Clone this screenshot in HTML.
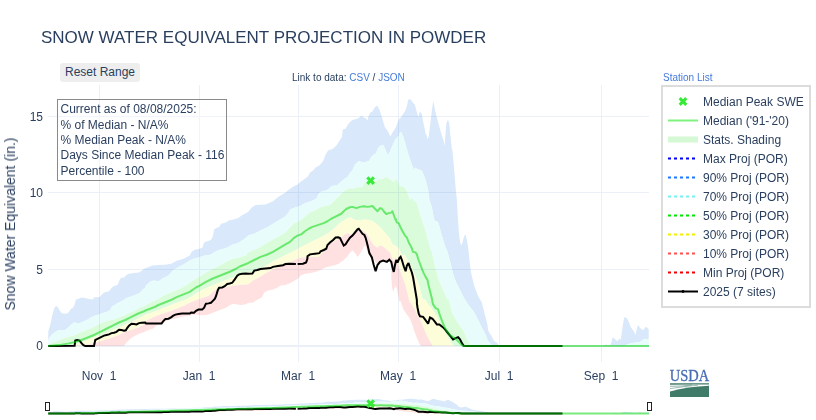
<!DOCTYPE html>
<html><head><meta charset="utf-8"><title>SWE Projection</title>
<style>
html,body{margin:0;padding:0;background:#fff;}
body{width:816px;height:420px;position:relative;overflow:hidden;font-family:"Liberation Sans",sans-serif;color:#2a3f5f;}
.t{position:absolute;white-space:nowrap;line-height:1;}
</style></head><body>
<svg width="816" height="420" viewBox="0 0 816 420" style="position:absolute;left:0;top:0">
<defs><clipPath id="cp"><rect x="48" y="85" width="601.5" height="277"/></clipPath></defs>
<g clip-path="url(#cp)">
<path d="M48.25,332.00 L48.30,331.25 L50.25,325.00 L52.12,316.25 L54.00,308.75 L55.88,306.00 L57.75,306.88 L59.62,310.62 L61.50,313.12 L64.00,313.75 L67.12,313.50 L69.00,311.88 L70.88,308.75 L72.75,308.12 L74.62,305.00 L75.88,299.38 L79.00,298.75 L80.88,297.50 L85.25,298.12 L89.00,299.00 L92.75,299.38 L94.00,297.50 L96.50,297.25 L99.62,296.88 L101.50,295.00 L104.00,292.50 L106.50,291.88 L109.00,291.25 L110.88,288.75 L113.38,286.25 L115.88,285.62 L117.75,284.38 L119.62,280.00 L120.88,278.12 L124.00,277.50 L126.50,275.00 L129.00,273.75 L134.00,273.12 L139.00,272.50 L142.12,270.62 L144.00,268.75 L146.00,268.12 L152.25,265.62 L158.50,265.00 L164.75,264.75 L171.00,263.75 L177.25,260.62 L183.50,258.75 L189.75,255.62 L191.62,251.88 L194.12,250.00 L198.50,249.00 L202.25,247.75 L204.12,242.50 L207.25,241.25 L211.00,240.00 L212.88,236.25 L214.12,229.38 L217.25,227.50 L219.12,226.88 L221.00,223.75 L226.00,222.50 L228.50,220.62 L233.50,219.38 L238.50,218.12 L241.62,215.62 L248.00,211.88 L251.75,207.50 L255.50,205.00 L265.50,204.38 L273.00,201.25 L276.75,198.12 L280.50,195.62 L285.50,192.50 L290.00,188.75 L293.75,186.25 L297.50,184.38 L301.25,181.25 L305.00,178.75 L308.12,176.25 L310.00,172.50 L313.12,170.62 L315.50,167.50 L319.25,165.50 L323.00,161.25 L325.50,155.00 L328.00,150.50 L333.00,148.75 L336.75,145.00 L341.88,137.00 L342.75,129.38 L345.62,128.75 L347.50,125.00 L350.00,121.88 L352.50,120.00 L356.25,119.00 L358.75,118.12 L360.62,116.25 L362.50,116.25 L364.38,118.12 L365.62,118.12 L367.50,120.62 L368.50,116.25 L370.00,113.12 L372.50,111.25 L374.38,108.12 L376.25,106.00 L377.50,106.00 L379.38,109.38 L381.25,115.00 L383.12,121.25 L385.00,127.50 L387.50,130.62 L389.38,134.38 L390.38,136.50 L392.50,132.50 L395.00,128.75 L396.88,124.38 L398.75,119.38 L401.25,116.88 L403.75,113.12 L405.62,110.00 L406.88,106.25 L408.12,100.00 L409.38,99.00 L410.62,99.38 L412.50,101.88 L415.00,105.00 L416.25,110.00 L417.50,114.38 L418.50,116.88 L419.38,113.12 L420.38,111.50 L421.88,114.38 L423.12,121.25 L424.38,127.50 L425.62,133.75 L426.50,135.00 L427.50,139.38 L428.75,136.25 L429.38,131.25 L430.62,121.25 L431.88,110.00 L433.12,101.88 L433.75,102.50 L435.00,110.00 L436.88,117.50 L438.75,124.38 L440.62,131.25 L442.50,137.50 L443.75,141.25 L444.62,146.25 L445.38,135.00 L446.25,123.75 L447.50,120.62 L448.50,120.62 L449.62,126.25 L450.25,133.75 L451.00,141.25 L451.88,148.75 L452.50,151.25 L453.12,157.50 L453.75,165.00 L454.38,172.50 L455.00,180.00 L455.62,187.50 L456.25,193.75 L457.00,201.25 L457.25,207.50 L457.75,215.00 L458.25,222.50 L458.75,230.00 L459.38,237.50 L460.25,242.50 L461.25,245.62 L462.50,242.50 L463.75,237.50 L464.75,235.00 L465.75,235.00 L466.88,240.00 L467.75,245.00 L468.50,250.00 L469.00,255.00 L469.75,262.50 L470.62,270.00 L471.88,276.25 L473.12,281.25 L474.38,286.25 L476.25,291.25 L478.12,296.25 L481.88,302.50 L482.75,306.25 L483.75,310.00 L485.00,315.00 L486.25,320.00 L487.50,325.00 L488.12,330.00 L489.38,333.12 L491.25,335.62 L492.50,338.12 L493.75,340.62 L495.62,341.88 L497.50,343.12 L498.75,345.75 L500.00,346.00 L603.00,346.00 L604.75,345.00 L606.62,344.38 L607.88,345.25 L610.38,345.00 L611.62,341.25 L612.50,337.50 L614.12,338.12 L616.00,340.00 L617.25,341.25 L618.50,339.75 L619.75,338.50 L620.75,340.00 L621.62,333.75 L622.88,325.00 L624.12,317.50 L625.38,317.25 L627.25,318.75 L628.50,321.25 L629.75,324.38 L631.00,327.50 L632.88,330.00 L634.50,332.50 L635.38,335.00 L636.62,330.00 L637.50,326.25 L638.50,325.25 L639.75,327.50 L641.62,329.38 L643.50,330.00 L645.00,327.50 L646.25,326.88 L647.50,327.75 L648.75,329.38 L648.75,338.50 L646.00,339.38 L644.12,338.75 L642.25,340.62 L639.75,341.88 L636.00,342.50 L632.25,343.12 L628.50,344.00 L626.00,345.00 L624.00,346.00 L494.00,346.00 L492.50,345.75 L491.25,344.38 L489.38,342.50 L487.50,340.00 L486.25,336.25 L484.38,332.50 L482.50,328.75 L480.00,323.75 L477.50,318.75 L475.00,313.75 L472.50,310.00 L470.00,306.88 L467.50,303.75 L465.62,300.62 L463.75,297.50 L461.88,293.75 L460.00,290.00 L458.12,286.25 L456.25,282.50 L454.38,278.12 L453.12,273.75 L451.88,268.75 L450.62,263.75 L449.38,258.75 L448.12,253.75 L446.88,250.00 L445.62,248.12 L444.38,243.75 L443.12,240.00 L441.88,235.62 L440.62,231.25 L439.38,226.25 L438.12,222.50 L436.88,221.25 L435.00,221.25 L433.75,217.50 L432.75,212.50 L431.88,207.50 L430.62,203.75 L429.38,200.00 L428.75,195.00 L428.12,190.00 L426.88,185.00 L425.62,180.00 L423.75,175.00 L423.12,173.75 L421.88,170.62 L420.00,170.00 L416.88,168.75 L415.00,167.50 L413.75,170.62 L412.50,166.25 L410.62,161.25 L408.75,155.62 L406.88,149.38 L405.00,142.50 L403.12,136.25 L401.25,131.88 L400.00,131.88 L398.75,136.25 L396.88,137.50 L395.00,140.00 L392.50,145.62 L390.00,151.25 L388.12,155.62 L385.62,150.00 L383.75,145.62 L381.88,145.25 L379.38,146.25 L377.50,149.38 L375.62,153.75 L373.75,154.38 L371.25,156.88 L368.75,161.25 L365.00,161.88 L361.88,162.50 L360.00,161.00 L357.50,161.88 L355.00,164.38 L352.50,170.00 L350.00,173.12 L347.50,177.00 L346.25,177.50 L342.50,180.62 L340.00,182.50 L336.88,185.62 L333.75,185.62 L331.25,186.25 L328.75,188.75 L326.25,190.62 L323.12,191.00 L320.62,191.88 L318.12,194.38 L316.88,198.12 L313.75,200.00 L308.75,201.88 L303.75,203.75 L300.00,206.25 L295.00,207.50 L290.00,209.38 L289.25,211.25 L285.50,216.25 L279.25,220.00 L273.00,223.75 L266.75,227.50 L260.50,230.62 L254.25,233.75 L248.00,235.62 L247.25,236.50 L243.50,239.38 L239.75,241.88 L236.00,243.75 L232.25,244.38 L228.50,246.88 L223.50,248.75 L218.50,250.00 L214.75,251.88 L211.00,254.38 L208.50,255.00 L204.75,255.62 L198.50,257.50 L193.50,258.75 L188.50,261.25 L183.50,264.38 L178.50,266.88 L173.50,270.00 L168.50,275.62 L163.50,278.12 L158.50,281.25 L153.50,280.62 L149.75,281.88 L146.00,285.62 L145.25,287.75 L142.75,289.38 L140.25,292.50 L136.50,294.38 L131.50,296.25 L126.50,298.12 L121.50,301.25 L116.50,303.75 L111.50,307.00 L110.25,310.00 L106.50,311.88 L102.75,313.12 L99.00,314.38 L95.25,315.62 L91.50,316.88 L87.75,319.38 L84.00,321.25 L80.25,323.12 L76.50,323.12 L74.00,322.50 L70.25,325.62 L67.75,328.12 L65.25,330.00 L61.50,330.00 L57.75,330.62 L55.25,331.88 L52.75,333.75 L49.62,337.50 L48.30,340.62 L48.25,342.00 Z" fill="#d9e9fb"/>
<path d="M48.25,342.00 L48.30,340.62 L49.62,337.50 L52.75,333.75 L55.25,331.88 L57.75,330.62 L61.50,330.00 L65.25,330.00 L67.75,328.12 L70.25,325.62 L74.00,322.50 L76.50,323.12 L80.25,323.12 L84.00,321.25 L87.75,319.38 L91.50,316.88 L95.25,315.62 L99.00,314.38 L102.75,313.12 L106.50,311.88 L110.25,310.00 L111.50,307.00 L116.50,303.75 L121.50,301.25 L126.50,298.12 L131.50,296.25 L136.50,294.38 L140.25,292.50 L142.75,289.38 L145.25,287.75 L146.00,285.62 L149.75,281.88 L153.50,280.62 L158.50,281.25 L163.50,278.12 L168.50,275.62 L173.50,270.00 L178.50,266.88 L183.50,264.38 L188.50,261.25 L193.50,258.75 L198.50,257.50 L204.75,255.62 L208.50,255.00 L211.00,254.38 L214.75,251.88 L218.50,250.00 L223.50,248.75 L228.50,246.88 L232.25,244.38 L236.00,243.75 L239.75,241.88 L243.50,239.38 L247.25,236.50 L248.00,235.62 L254.25,233.75 L260.50,230.62 L266.75,227.50 L273.00,223.75 L279.25,220.00 L285.50,216.25 L289.25,211.25 L290.00,209.38 L295.00,207.50 L300.00,206.25 L303.75,203.75 L308.75,201.88 L313.75,200.00 L316.88,198.12 L318.12,194.38 L320.62,191.88 L323.12,191.00 L326.25,190.62 L328.75,188.75 L331.25,186.25 L333.75,185.62 L336.88,185.62 L340.00,182.50 L342.50,180.62 L346.25,177.50 L347.50,177.00 L350.00,173.12 L352.50,170.00 L355.00,164.38 L357.50,161.88 L360.00,161.00 L361.88,162.50 L365.00,161.88 L368.75,161.25 L371.25,156.88 L373.75,154.38 L375.62,153.75 L377.50,149.38 L379.38,146.25 L381.88,145.25 L383.75,145.62 L385.62,150.00 L388.12,155.62 L390.00,151.25 L392.50,145.62 L395.00,140.00 L396.88,137.50 L398.75,136.25 L400.00,131.88 L401.25,131.88 L403.12,136.25 L405.00,142.50 L406.88,149.38 L408.75,155.62 L410.62,161.25 L412.50,166.25 L413.75,170.62 L415.00,167.50 L416.88,168.75 L420.00,170.00 L421.88,170.62 L423.12,173.75 L423.75,175.00 L425.62,180.00 L426.88,185.00 L428.12,190.00 L428.75,195.00 L429.38,200.00 L430.62,203.75 L431.88,207.50 L432.75,212.50 L433.75,217.50 L435.00,221.25 L436.88,221.25 L438.12,222.50 L439.38,226.25 L440.62,231.25 L441.88,235.62 L443.12,240.00 L444.38,243.75 L445.62,248.12 L446.88,250.00 L448.12,253.75 L449.38,258.75 L450.62,263.75 L451.88,268.75 L453.12,273.75 L454.38,278.12 L456.25,282.50 L458.12,286.25 L460.00,290.00 L461.88,293.75 L463.75,297.50 L465.62,300.62 L467.50,303.75 L470.00,306.88 L472.50,310.00 L475.00,313.75 L477.50,318.75 L480.00,323.75 L482.50,328.75 L484.38,332.50 L486.25,336.25 L487.50,340.00 L489.38,342.50 L491.25,344.38 L492.50,345.75 L494.00,346.00 L624.00,346.00 L626.00,345.00 L628.50,344.00 L632.25,343.12 L636.00,342.50 L639.75,341.88 L642.25,340.62 L644.12,338.75 L646.00,339.38 L648.75,338.50 L649.00,346.00 L472.00,346.00 L470.62,345.75 L469.38,343.12 L467.50,340.00 L465.62,336.25 L464.38,332.50 L462.50,329.38 L460.00,326.25 L457.50,322.50 L455.00,318.12 L452.50,313.75 L451.25,310.00 L450.00,305.00 L448.75,300.00 L447.50,300.00 L445.62,295.62 L443.75,291.88 L441.88,287.50 L440.00,283.12 L438.12,278.12 L436.88,273.75 L435.62,268.75 L434.38,263.75 L433.12,258.75 L432.25,253.75 L431.25,250.00 L430.62,250.00 L429.38,245.62 L428.12,241.25 L426.88,236.25 L425.62,231.25 L424.38,227.50 L423.12,223.75 L421.88,220.00 L420.62,216.25 L419.38,212.50 L418.12,207.50 L416.88,203.75 L415.62,200.00 L415.00,202.75 L413.75,200.00 L411.88,198.12 L410.00,200.00 L408.12,195.00 L406.25,190.00 L404.38,187.50 L402.50,186.25 L400.00,186.25 L398.12,182.50 L396.88,179.75 L395.62,179.38 L393.75,181.88 L391.30,180.62 L391.25,180.25 L388.75,178.75 L386.88,176.88 L385.00,177.50 L383.12,178.75 L381.25,179.38 L378.75,179.00 L377.50,180.62 L375.00,181.25 L367.50,181.88 L365.00,182.50 L363.75,184.38 L362.50,186.88 L358.75,187.25 L355.00,187.75 L352.50,189.00 L351.25,188.12 L348.75,188.75 L345.00,190.25 L342.50,192.50 L340.00,195.00 L337.50,197.50 L335.00,200.00 L332.50,203.12 L328.75,205.62 L323.75,206.25 L320.00,207.50 L316.25,210.00 L313.12,211.25 L310.00,212.50 L306.25,215.62 L302.50,218.75 L298.75,221.25 L293.75,223.75 L290.00,227.50 L285.50,232.50 L279.25,236.25 L273.00,239.38 L266.75,243.12 L260.50,246.88 L254.25,250.00 L248.00,252.50 L246.00,255.62 L239.75,257.50 L233.50,258.75 L227.25,261.25 L221.00,265.00 L214.75,268.12 L208.50,271.25 L202.25,275.00 L196.00,278.75 L189.75,283.12 L183.50,286.88 L177.25,290.00 L171.00,292.50 L164.75,295.00 L158.50,298.75 L152.25,301.88 L146.00,305.00 L145.25,305.75 L141.50,306.88 L137.75,308.75 L134.00,311.25 L129.00,313.12 L124.00,315.62 L119.00,317.50 L114.00,319.38 L109.00,320.62 L104.00,321.88 L100.25,323.75 L94.00,326.88 L87.75,329.38 L81.50,331.88 L75.25,335.00 L69.00,336.88 L62.75,338.75 L56.50,341.25 L51.50,343.12 L48.25,345.00 Z" fill="#e8fcfc"/>
<path d="M48.25,345.00 L51.50,343.12 L56.50,341.25 L62.75,338.75 L69.00,336.88 L75.25,335.00 L81.50,331.88 L87.75,329.38 L94.00,326.88 L100.25,323.75 L104.00,321.88 L109.00,320.62 L114.00,319.38 L119.00,317.50 L124.00,315.62 L129.00,313.12 L134.00,311.25 L137.75,308.75 L141.50,306.88 L145.25,305.75 L146.00,305.00 L152.25,301.88 L158.50,298.75 L164.75,295.00 L171.00,292.50 L177.25,290.00 L183.50,286.88 L189.75,283.12 L196.00,278.75 L202.25,275.00 L208.50,271.25 L214.75,268.12 L221.00,265.00 L227.25,261.25 L233.50,258.75 L239.75,257.50 L246.00,255.62 L248.00,252.50 L254.25,250.00 L260.50,246.88 L266.75,243.12 L273.00,239.38 L279.25,236.25 L285.50,232.50 L290.00,227.50 L293.75,223.75 L298.75,221.25 L302.50,218.75 L306.25,215.62 L310.00,212.50 L313.12,211.25 L316.25,210.00 L320.00,207.50 L323.75,206.25 L328.75,205.62 L332.50,203.12 L335.00,200.00 L337.50,197.50 L340.00,195.00 L342.50,192.50 L345.00,190.25 L348.75,188.75 L351.25,188.12 L352.50,189.00 L355.00,187.75 L358.75,187.25 L362.50,186.88 L363.75,184.38 L365.00,182.50 L367.50,181.88 L375.00,181.25 L377.50,180.62 L378.75,179.00 L381.25,179.38 L383.12,178.75 L385.00,177.50 L386.88,176.88 L388.75,178.75 L391.25,180.25 L391.30,180.62 L393.75,181.88 L395.62,179.38 L396.88,179.75 L398.12,182.50 L400.00,186.25 L402.50,186.25 L404.38,187.50 L406.25,190.00 L408.12,195.00 L410.00,200.00 L411.88,198.12 L413.75,200.00 L415.00,202.75 L415.62,200.00 L416.88,203.75 L418.12,207.50 L419.38,212.50 L420.62,216.25 L421.88,220.00 L423.12,223.75 L424.38,227.50 L425.62,231.25 L426.88,236.25 L428.12,241.25 L429.38,245.62 L430.62,250.00 L431.25,250.00 L432.25,253.75 L433.12,258.75 L434.38,263.75 L435.62,268.75 L436.88,273.75 L438.12,278.12 L440.00,283.12 L441.88,287.50 L443.75,291.88 L445.62,295.62 L447.50,300.00 L448.75,300.00 L450.00,305.00 L451.25,310.00 L452.50,313.75 L455.00,318.12 L457.50,322.50 L460.00,326.25 L462.50,329.38 L464.38,332.50 L465.62,336.25 L467.50,340.00 L469.38,343.12 L470.62,345.75 L472.00,346.00 L649.00,346.00 L649.00,346.00 L455.00,346.00 L453.75,345.75 L451.88,343.75 L450.00,340.62 L447.50,336.25 L444.38,331.25 L441.88,326.25 L439.38,321.25 L436.88,316.25 L433.75,311.25 L431.25,307.50 L428.12,304.38 L425.62,300.00 L422.50,298.75 L421.25,293.75 L420.00,288.75 L418.75,283.75 L416.88,279.38 L415.00,275.00 L413.12,270.62 L411.25,266.25 L408.75,261.88 L406.25,257.50 L403.75,253.75 L402.50,256.25 L401.25,253.75 L399.38,249.38 L397.50,246.88 L395.00,245.62 L392.50,244.38 L390.00,238.75 L387.50,235.62 L383.75,231.25 L380.00,226.88 L376.25,223.75 L372.50,221.00 L368.75,220.00 L365.00,219.38 L361.25,220.00 L357.50,220.62 L353.75,219.38 L351.25,217.50 L347.50,218.12 L345.00,220.00 L341.25,221.88 L337.50,225.00 L333.75,228.75 L330.00,231.88 L325.00,235.00 L320.00,237.50 L315.00,240.00 L310.00,242.50 L305.00,245.00 L300.00,247.50 L295.00,250.62 L290.00,253.12 L278.00,258.75 L273.00,261.25 L268.00,264.38 L263.00,267.25 L258.00,269.38 L253.00,271.25 L248.00,273.12 L246.00,272.50 L239.75,274.75 L233.50,276.88 L227.25,279.38 L221.00,281.88 L214.75,284.38 L208.50,286.88 L202.25,290.00 L196.00,293.75 L189.75,297.50 L183.50,300.62 L177.25,302.50 L171.00,305.00 L164.75,307.50 L158.50,310.00 L152.25,312.50 L146.00,314.62 L144.00,315.62 L137.75,318.75 L131.50,321.88 L125.25,324.38 L119.00,327.50 L112.75,330.00 L106.50,333.12 L100.25,335.62 L94.00,337.50 L87.75,340.00 L81.50,342.50 L74.00,344.75 L69.00,345.75 L48.25,346.00 Z" fill="#dafcda"/>
<path d="M48.25,346.00 L69.00,345.75 L74.00,344.75 L81.50,342.50 L87.75,340.00 L94.00,337.50 L100.25,335.62 L106.50,333.12 L112.75,330.00 L119.00,327.50 L125.25,324.38 L131.50,321.88 L137.75,318.75 L144.00,315.62 L146.00,314.62 L152.25,312.50 L158.50,310.00 L164.75,307.50 L171.00,305.00 L177.25,302.50 L183.50,300.62 L189.75,297.50 L196.00,293.75 L202.25,290.00 L208.50,286.88 L214.75,284.38 L221.00,281.88 L227.25,279.38 L233.50,276.88 L239.75,274.75 L246.00,272.50 L248.00,273.12 L253.00,271.25 L258.00,269.38 L263.00,267.25 L268.00,264.38 L273.00,261.25 L278.00,258.75 L290.00,253.12 L295.00,250.62 L300.00,247.50 L305.00,245.00 L310.00,242.50 L315.00,240.00 L320.00,237.50 L325.00,235.00 L330.00,231.88 L333.75,228.75 L337.50,225.00 L341.25,221.88 L345.00,220.00 L347.50,218.12 L351.25,217.50 L353.75,219.38 L357.50,220.62 L361.25,220.00 L365.00,219.38 L368.75,220.00 L372.50,221.00 L376.25,223.75 L380.00,226.88 L383.75,231.25 L387.50,235.62 L390.00,238.75 L392.50,244.38 L395.00,245.62 L397.50,246.88 L399.38,249.38 L401.25,253.75 L402.50,256.25 L403.75,253.75 L406.25,257.50 L408.75,261.88 L411.25,266.25 L413.12,270.62 L415.00,275.00 L416.88,279.38 L418.75,283.75 L420.00,288.75 L421.25,293.75 L422.50,298.75 L425.62,300.00 L428.12,304.38 L431.25,307.50 L433.75,311.25 L436.88,316.25 L439.38,321.25 L441.88,326.25 L444.38,331.25 L447.50,336.25 L450.00,340.62 L451.88,343.75 L453.75,345.75 L455.00,346.00 L649.00,346.00 L649.00,346.00 L434.00,346.00 L432.50,345.75 L430.00,341.25 L427.50,336.88 L425.00,331.25 L422.50,325.00 L420.00,320.00 L417.50,315.00 L414.38,308.75 L411.25,303.75 L410.05,301.25 L410.00,303.75 L408.75,298.75 L407.50,293.75 L406.25,288.75 L405.00,283.75 L403.12,278.75 L401.25,273.75 L399.38,268.75 L397.50,262.50 L395.62,256.88 L393.75,261.25 L392.50,258.75 L390.00,252.50 L386.25,249.38 L382.50,246.25 L380.00,245.62 L377.50,247.50 L375.00,246.25 L372.50,243.75 L370.00,239.38 L367.50,235.00 L365.00,231.88 L361.88,230.00 L358.12,230.00 L355.00,231.88 L352.50,233.75 L350.00,234.38 L347.50,233.12 L345.00,234.38 L341.25,237.50 L337.50,239.38 L333.75,241.25 L330.00,243.75 L326.25,247.50 L322.50,252.50 L318.75,257.00 L308.75,257.00 L302.50,257.50 L297.50,258.75 L288.00,263.12 L283.00,265.62 L278.00,267.50 L273.00,269.38 L268.00,271.88 L263.00,275.00 L258.00,278.12 L253.00,280.62 L248.00,284.38 L246.00,284.38 L239.75,285.00 L233.50,285.62 L227.25,286.88 L221.00,288.12 L214.75,290.62 L208.50,295.88 L202.25,298.00 L196.00,300.25 L189.75,302.75 L183.50,305.88 L177.25,308.38 L171.00,310.88 L164.75,313.00 L158.50,315.25 L152.25,317.75 L146.00,320.88 L144.00,324.38 L137.75,328.12 L131.50,330.00 L125.25,331.88 L119.00,335.00 L112.75,337.50 L106.50,339.38 L100.25,341.25 L94.00,343.12 L87.75,344.38 L81.50,345.75 L48.25,346.00 Z" fill="#fdfdda"/>
<path d="M48.25,346.00 L81.50,345.75 L87.75,344.38 L94.00,343.12 L100.25,341.25 L106.50,339.38 L112.75,337.50 L119.00,335.00 L125.25,331.88 L131.50,330.00 L137.75,328.12 L144.00,324.38 L146.00,320.88 L152.25,317.75 L158.50,315.25 L164.75,313.00 L171.00,310.88 L177.25,308.38 L183.50,305.88 L189.75,302.75 L196.00,300.25 L202.25,298.00 L208.50,295.88 L214.75,290.62 L221.00,288.12 L227.25,286.88 L233.50,285.62 L239.75,285.00 L246.00,284.38 L248.00,284.38 L253.00,280.62 L258.00,278.12 L263.00,275.00 L268.00,271.88 L273.00,269.38 L278.00,267.50 L283.00,265.62 L288.00,263.12 L297.50,258.75 L302.50,257.50 L308.75,257.00 L318.75,257.00 L322.50,252.50 L326.25,247.50 L330.00,243.75 L333.75,241.25 L337.50,239.38 L341.25,237.50 L345.00,234.38 L347.50,233.12 L350.00,234.38 L352.50,233.75 L355.00,231.88 L358.12,230.00 L361.88,230.00 L365.00,231.88 L367.50,235.00 L370.00,239.38 L372.50,243.75 L375.00,246.25 L377.50,247.50 L380.00,245.62 L382.50,246.25 L386.25,249.38 L390.00,252.50 L392.50,258.75 L393.75,261.25 L395.62,256.88 L397.50,262.50 L399.38,268.75 L401.25,273.75 L403.12,278.75 L405.00,283.75 L406.25,288.75 L407.50,293.75 L408.75,298.75 L410.00,303.75 L410.05,301.25 L411.25,303.75 L414.38,308.75 L417.50,315.00 L420.00,320.00 L422.50,325.00 L425.00,331.25 L427.50,336.88 L430.00,341.25 L432.50,345.75 L434.00,346.00 L649.00,346.00 L649.00,346.00 L422.00,346.00 L420.62,345.75 L419.38,343.75 L416.88,338.12 L414.38,331.25 L412.50,325.00 L410.00,318.75 L406.88,314.38 L403.75,310.00 L401.88,305.00 L400.62,301.25 L399.38,301.25 L398.12,295.00 L396.88,288.75 L395.62,285.62 L394.38,288.75 L393.12,291.88 L391.88,286.25 L391.35,277.50 L391.30,270.00 L391.25,261.88 L390.00,258.75 L388.12,259.38 L385.00,261.50 L381.25,261.25 L377.50,263.75 L375.62,262.50 L373.12,258.12 L370.62,256.88 L368.12,253.75 L366.88,250.00 L365.62,246.25 L364.38,245.62 L362.50,249.38 L360.00,253.75 L357.50,256.88 L355.00,253.12 L352.50,250.62 L350.00,252.50 L347.50,256.25 L343.75,260.00 L340.00,262.50 L339.25,263.50 L335.50,265.00 L330.50,266.25 L325.50,267.50 L320.50,270.00 L315.50,271.88 L310.50,273.12 L305.50,273.75 L300.50,275.62 L298.00,278.75 L295.50,280.00 L290.50,283.12 L285.50,285.00 L280.50,285.62 L276.75,288.12 L273.00,289.38 L268.00,290.62 L264.25,292.50 L261.75,297.50 L256.75,300.00 L253.00,302.50 L248.00,303.12 L246.00,304.25 L241.00,305.00 L236.00,304.25 L232.25,304.00 L229.75,305.25 L226.00,307.75 L221.00,309.62 L216.00,311.50 L211.00,313.38 L206.00,315.25 L201.00,315.25 L196.00,314.62 L191.00,315.25 L186.00,315.88 L181.00,317.12 L176.00,318.38 L171.00,319.62 L166.00,320.88 L162.25,322.75 L158.50,324.62 L155.38,325.88 L153.50,328.38 L149.75,329.62 L146.00,330.88 L144.00,331.88 L139.00,333.75 L134.00,336.25 L130.25,338.75 L126.50,342.50 L124.00,345.75 L122.00,346.00 L48.25,346.00 Z" fill="#ffe1e1"/>
</g>
<g style="mix-blend-mode:multiply">
<line x1="99.5" x2="99.5" y1="85" y2="362" stroke="#ebf0f8" stroke-width="1"/>
<line x1="199.5" x2="199.5" y1="85" y2="362" stroke="#ebf0f8" stroke-width="1"/>
<line x1="298.5" x2="298.5" y1="85" y2="362" stroke="#ebf0f8" stroke-width="1"/>
<line x1="398.5" x2="398.5" y1="85" y2="362" stroke="#ebf0f8" stroke-width="1"/>
<line x1="499.5" x2="499.5" y1="85" y2="362" stroke="#ebf0f8" stroke-width="1"/>
<line x1="601.5" x2="601.5" y1="85" y2="362" stroke="#ebf0f8" stroke-width="1"/>
<line x1="48" x2="649" y1="116.5" y2="116.5" stroke="#ebf0f8" stroke-width="1"/>
<line x1="48" x2="649" y1="192.5" y2="192.5" stroke="#ebf0f8" stroke-width="1"/>
<line x1="48" x2="649" y1="269.5" y2="269.5" stroke="#ebf0f8" stroke-width="1"/>
<line x1="48" x2="649" y1="346.0" y2="346.0" stroke="#ebf0f8" stroke-width="2"/>
</g>
<g clip-path="url(#cp)">
<path d="M48.25,346.00 L74.62,345.75 L75.25,340.62 L77.12,340.00 L79.62,340.62 L81.50,343.12 L83.38,345.25 L85.25,345.88 L94.00,345.88 L95.25,340.00 L96.50,339.38 L99.00,338.12 L101.50,336.88 L104.00,335.62 L106.50,335.00 L109.00,334.38 L111.50,333.12 L114.00,332.75 L116.50,331.88 L119.00,329.75 L121.50,330.00 L124.00,330.62 L125.88,330.25 L127.12,328.12 L129.00,325.62 L131.50,323.75 L134.00,324.00 L136.50,324.38 L139.00,323.12 L141.50,322.75 L145.25,322.50 L146.00,323.38 L161.62,323.38 L163.50,320.88 L165.38,319.00 L168.50,318.75 L171.00,317.50 L172.88,315.88 L175.38,314.62 L178.50,314.00 L182.25,313.62 L189.75,313.62 L191.00,312.50 L194.12,312.75 L196.00,310.88 L198.50,309.62 L202.25,309.62 L204.12,307.75 L205.38,304.62 L206.00,303.75 L208.50,303.38 L211.00,302.75 L212.88,300.88 L214.75,299.00 L216.00,296.25 L217.88,290.00 L219.12,287.75 L222.25,287.50 L224.75,286.25 L227.25,284.00 L229.75,283.50 L232.25,282.75 L234.75,279.38 L237.25,275.62 L239.12,274.38 L242.25,273.75 L246.00,273.50 L248.00,273.75 L252.38,273.50 L254.25,270.62 L257.38,270.00 L260.50,269.00 L265.50,268.50 L270.50,268.12 L273.00,266.88 L278.00,266.00 L283.00,265.25 L285.50,264.00 L289.25,263.75 L295.88,264.00" fill="none" stroke="#000" stroke-width="2" stroke-linejoin="miter" stroke-miterlimit="2"/>
<path d="M297.62,264.00 L303.00,263.75 L306.12,262.50 L307.38,258.75 L307.50,256.25 L310.00,254.38 L315.00,253.75 L319.38,253.12 L320.62,251.25 L323.75,250.00 L326.25,248.75 L327.50,245.00 L330.00,242.50 L333.12,240.00 L335.62,237.50 L338.12,237.25 L340.00,238.12 L341.88,241.88 L343.75,245.62 L345.62,244.38 L347.50,241.25 L350.00,237.75 L352.50,235.62 L355.00,232.50 L357.50,229.38 L358.75,228.75 L360.62,231.25 L362.50,233.75 L364.38,235.00 L365.62,237.75 L366.88,242.50 L368.12,247.50 L369.38,253.12 L371.88,257.50 L373.75,265.00 L375.62,271.25 L377.50,265.00 L380.00,261.88 L383.12,260.62 L386.88,261.88 L389.38,259.75 L391.25,261.88 L392.50,267.50 L393.75,271.88 L395.00,265.00 L396.25,260.00 L397.50,262.50 L399.38,258.12 L400.62,256.88 L401.88,260.00 L403.75,266.25 L405.62,271.25 L406.88,265.62 L408.50,263.12 L410.00,267.50 L411.88,272.50 L413.12,277.50 L414.38,285.00 L415.62,292.50 L416.88,300.00 L416.93,303.75 L417.50,307.50 L418.75,313.75 L420.00,316.25 L423.12,316.88 L425.00,319.38 L428.12,323.75 L430.00,317.50 L432.50,318.75 L435.00,321.88 L436.88,324.38 L439.38,324.38 L442.50,326.88 L445.00,329.38 L447.50,332.50 L450.00,335.62 L453.12,339.38 L455.62,338.12 L458.12,337.25 L460.00,339.38 L461.88,343.12 L463.75,345.75 L466.00,346.00 L562.50,346.00" fill="none" stroke="#000" stroke-width="2" stroke-linejoin="miter" stroke-miterlimit="2"/>
<path d="M48.25,346.00 L59.00,345.12 L69.00,343.38 L75.25,341.88 L81.50,340.00 L87.75,337.50 L94.00,335.00 L100.25,331.88 L106.50,328.75 L112.75,325.62 L119.00,322.50 L125.25,320.00 L131.50,316.88 L137.75,313.75 L144.00,311.25 L146.00,310.25 L154.75,307.00 L158.50,305.00 L164.75,302.50 L171.00,300.00 L177.25,296.88 L183.50,294.38 L189.75,291.88 L196.00,287.50 L199.75,285.62 L206.00,281.88 L212.25,278.75 L218.50,276.25 L224.75,273.75 L231.00,271.25 L236.00,268.75 L239.75,266.50 L246.00,264.00 L248.00,263.12 L254.25,260.00 L260.50,256.88 L266.75,254.75 L273.00,251.88 L279.25,248.12 L285.50,244.38 L290.00,241.88 L293.75,238.12 L297.50,235.62 L301.25,234.38 L305.00,231.25 L308.75,228.75 L312.50,226.88 L316.25,225.62 L320.00,224.38 L323.75,223.12 L327.50,221.25 L331.25,218.75 L335.00,216.88 L338.75,215.00 L341.25,213.75 L343.75,211.25 L346.25,209.00 L350.00,207.25 L352.50,206.88 L356.25,208.12 L360.00,206.88 L363.75,206.25 L367.50,206.88 L370.00,206.50 L372.50,206.00 L375.00,208.75 L377.50,211.25 L380.00,208.12 L381.88,208.75 L383.75,211.25 L386.25,214.00 L388.75,213.12 L391.25,212.62 L392.50,211.25 L393.75,215.00 L395.62,220.00 L395.68,218.75 L396.88,222.50 L398.75,223.12 L400.00,226.25 L402.50,231.25 L405.00,235.62 L406.88,237.50 L408.75,242.50 L411.25,246.88 L413.12,251.88 L415.62,252.50 L416.88,254.38 L418.12,258.75 L420.00,263.75 L421.88,268.75 L423.75,273.12 L425.62,276.88 L427.50,280.00 L428.50,285.00 L429.75,290.00 L431.00,295.00 L432.25,300.00 L432.30,301.25 L433.12,304.38 L435.62,308.12 L438.12,309.38 L439.38,313.75 L441.25,318.75 L443.12,323.75 L445.00,328.12 L447.50,331.88 L450.00,335.00 L452.50,336.88 L455.00,338.12 L458.12,341.25 L460.62,343.75 L462.50,345.75 L464.00,346.00 L649.00,346.00" fill="none" stroke="rgb(0,215,10)" stroke-opacity="0.52" stroke-width="2" stroke-linejoin="round"/>
</g>
<path d="M370.60,182.80 L372.80,185.00 L375.00,182.80 L372.80,180.60 L375.00,178.40 L372.80,176.20 L370.60,178.40 L368.40,176.20 L366.20,178.40 L368.40,180.60 L366.20,182.80 L368.40,185.00 Z" fill="#38ea38"/>
<path d="M48.25,412.75 L48.30,412.71 L50.25,412.33 L52.12,411.80 L54.00,411.34 L55.88,411.18 L57.75,411.23 L59.62,411.46 L61.50,411.61 L64.00,411.65 L67.12,411.63 L69.00,411.53 L70.88,411.34 L72.75,411.30 L74.62,411.12 L75.88,410.77 L79.00,410.74 L80.88,410.66 L85.25,410.70 L89.00,410.75 L92.75,410.77 L94.00,410.66 L96.50,410.65 L99.62,410.62 L101.50,410.51 L104.00,410.36 L106.50,410.32 L109.00,410.28 L110.88,410.13 L113.38,409.98 L115.88,409.94 L117.75,409.87 L119.62,409.60 L120.88,409.49 L124.00,409.45 L126.50,409.30 L129.00,409.22 L134.00,409.18 L139.00,409.15 L142.12,409.03 L144.00,408.92 L146.00,408.88 L152.25,408.73 L158.50,408.69 L164.75,408.68 L171.00,408.62 L177.25,408.43 L183.50,408.31 L189.75,408.12 L191.62,407.90 L194.12,407.78 L198.50,407.72 L202.25,407.65 L204.12,407.33 L207.25,407.25 L211.00,407.18 L212.88,406.95 L214.12,406.53 L217.25,406.42 L219.12,406.38 L221.00,406.19 L226.00,406.12 L228.50,406.00 L233.50,405.93 L238.50,405.85 L241.62,405.70 L248.00,405.47 L251.75,405.21 L255.50,405.05 L265.50,405.02 L273.00,404.83 L276.75,404.64 L280.50,404.49 L285.50,404.30 L290.00,404.07 L293.75,403.92 L297.50,403.80 L301.25,403.62 L305.00,403.46 L308.12,403.31 L310.00,403.08 L313.12,402.97 L315.50,402.78 L319.25,402.66 L323.00,402.40 L325.50,402.02 L328.00,401.75 L333.00,401.65 L336.75,401.42 L341.88,400.93 L342.75,400.47 L345.62,400.43 L347.50,400.21 L350.00,400.02 L352.50,399.90 L356.25,399.84 L358.75,399.79 L360.62,399.68 L362.50,399.68 L364.38,399.79 L365.62,399.79 L367.50,399.94 L368.50,399.68 L370.00,399.49 L372.50,399.37 L374.38,399.18 L376.25,399.05 L377.50,399.05 L379.38,399.26 L381.25,399.60 L383.12,399.98 L385.00,400.36 L387.50,400.55 L389.38,400.77 L390.38,400.90 L392.50,400.66 L395.00,400.43 L396.88,400.17 L398.75,399.87 L401.25,399.71 L403.75,399.49 L405.62,399.30 L406.88,399.07 L408.12,398.69 L409.38,398.63 L410.62,398.65 L412.50,398.80 L415.00,398.99 L416.25,399.30 L417.50,399.56 L418.50,399.71 L419.38,399.49 L420.38,399.39 L421.88,399.56 L423.12,399.98 L424.38,400.36 L425.62,400.74 L426.50,400.81 L427.50,401.08 L428.75,400.89 L429.38,400.58 L430.62,399.98 L431.88,399.30 L433.12,398.80 L433.75,398.84 L435.00,399.30 L436.88,399.75 L438.75,400.17 L440.62,400.58 L442.50,400.96 L443.75,401.19 L444.62,401.49 L445.38,400.81 L446.25,400.13 L447.50,399.94 L448.50,399.94 L449.62,400.28 L450.25,400.74 L451.00,401.19 L451.88,401.65 L452.50,401.80 L453.12,402.18 L453.75,402.63 L454.38,403.08 L455.00,403.54 L455.62,403.99 L456.25,404.37 L457.00,404.83 L457.25,405.21 L457.75,405.66 L458.25,406.12 L458.75,406.57 L459.38,407.02 L460.25,407.33 L461.25,407.52 L462.50,407.33 L463.75,407.02 L464.75,406.87 L465.75,406.87 L466.88,407.18 L467.75,407.48 L468.50,407.78 L469.00,408.08 L469.75,408.54 L470.62,408.99 L471.88,409.37 L473.12,409.68 L474.38,409.98 L476.25,410.28 L478.12,410.58 L481.88,410.96 L482.75,411.19 L483.75,411.42 L485.00,411.72 L486.25,412.02 L487.50,412.33 L488.12,412.63 L489.38,412.82 L491.25,412.97 L492.50,413.12 L493.75,413.27 L495.62,413.35 L497.50,413.43 L498.75,413.58 L500.00,413.60 L603.00,413.60 L604.75,413.54 L606.62,413.50 L607.88,413.55 L610.38,413.54 L611.62,413.31 L612.50,413.08 L614.12,413.12 L616.00,413.24 L617.25,413.31 L618.50,413.22 L619.75,413.15 L620.75,413.24 L621.62,412.86 L622.88,412.33 L624.12,411.87 L625.38,411.86 L627.25,411.95 L628.50,412.10 L629.75,412.29 L631.00,412.48 L632.88,412.63 L634.50,412.78 L635.38,412.93 L636.62,412.63 L637.50,412.40 L638.50,412.34 L639.75,412.48 L641.62,412.59 L643.50,412.63 L645.00,412.48 L646.25,412.44 L647.50,412.49 L648.75,412.59 L648.75,413.15 L646.00,413.20 L644.12,413.16 L642.25,413.27 L639.75,413.35 L636.00,413.39 L632.25,413.43 L628.50,413.48 L626.00,413.54 L624.00,413.60 L494.00,413.60 L492.50,413.58 L491.25,413.50 L489.38,413.39 L487.50,413.24 L486.25,413.01 L484.38,412.78 L482.50,412.55 L480.00,412.25 L477.50,411.95 L475.00,411.65 L472.50,411.42 L470.00,411.23 L467.50,411.04 L465.62,410.85 L463.75,410.66 L461.88,410.43 L460.00,410.21 L458.12,409.98 L456.25,409.75 L454.38,409.49 L453.12,409.22 L451.88,408.92 L450.62,408.62 L449.38,408.31 L448.12,408.01 L446.88,407.78 L445.62,407.67 L444.38,407.40 L443.12,407.18 L441.88,406.91 L440.62,406.65 L439.38,406.34 L438.12,406.12 L436.88,406.04 L435.00,406.04 L433.75,405.81 L432.75,405.51 L431.88,405.21 L430.62,404.98 L429.38,404.75 L428.75,404.45 L428.12,404.15 L426.88,403.84 L425.62,403.54 L423.75,403.24 L423.12,403.16 L421.88,402.97 L420.00,402.93 L416.88,402.86 L415.00,402.78 L413.75,402.97 L412.50,402.71 L410.62,402.40 L408.75,402.06 L406.88,401.68 L405.00,401.27 L403.12,400.89 L401.25,400.62 L400.00,400.62 L398.75,400.89 L396.88,400.96 L395.00,401.12 L392.50,401.46 L390.00,401.80 L388.12,402.06 L385.62,401.72 L383.75,401.46 L381.88,401.43 L379.38,401.49 L377.50,401.68 L375.62,401.95 L373.75,401.99 L371.25,402.14 L368.75,402.40 L365.00,402.44 L361.88,402.48 L360.00,402.39 L357.50,402.44 L355.00,402.59 L352.50,402.93 L350.00,403.12 L347.50,403.36 L346.25,403.39 L342.50,403.58 L340.00,403.69 L336.88,403.88 L333.75,403.88 L331.25,403.92 L328.75,404.07 L326.25,404.18 L323.12,404.21 L320.62,404.26 L318.12,404.41 L316.88,404.64 L313.75,404.75 L308.75,404.87 L303.75,404.98 L300.00,405.13 L295.00,405.21 L290.00,405.32 L289.25,405.43 L285.50,405.74 L279.25,405.96 L273.00,406.19 L266.75,406.42 L260.50,406.61 L254.25,406.80 L248.00,406.91 L247.25,406.96 L243.50,407.14 L239.75,407.29 L236.00,407.40 L232.25,407.44 L228.50,407.59 L223.50,407.71 L218.50,407.78 L214.75,407.90 L211.00,408.05 L208.50,408.08 L204.75,408.12 L198.50,408.24 L193.50,408.31 L188.50,408.46 L183.50,408.65 L178.50,408.80 L173.50,408.99 L168.50,409.33 L163.50,409.49 L158.50,409.68 L153.50,409.64 L149.75,409.71 L146.00,409.94 L145.25,410.07 L142.75,410.17 L140.25,410.36 L136.50,410.47 L131.50,410.58 L126.50,410.70 L121.50,410.89 L116.50,411.04 L111.50,411.24 L110.25,411.42 L106.50,411.53 L102.75,411.61 L99.00,411.68 L95.25,411.76 L91.50,411.83 L87.75,411.99 L84.00,412.10 L80.25,412.21 L76.50,412.21 L74.00,412.18 L70.25,412.37 L67.75,412.52 L65.25,412.63 L61.50,412.63 L57.75,412.67 L55.25,412.74 L52.75,412.86 L49.62,413.08 L48.30,413.27 L48.25,413.36 Z" fill="#d9e9fb"/>
<path d="M48.25,413.36 L48.30,413.27 L49.62,413.08 L52.75,412.86 L55.25,412.74 L57.75,412.67 L61.50,412.63 L65.25,412.63 L67.75,412.52 L70.25,412.37 L74.00,412.18 L76.50,412.21 L80.25,412.21 L84.00,412.10 L87.75,411.99 L91.50,411.83 L95.25,411.76 L99.00,411.68 L102.75,411.61 L106.50,411.53 L110.25,411.42 L111.50,411.24 L116.50,411.04 L121.50,410.89 L126.50,410.70 L131.50,410.58 L136.50,410.47 L140.25,410.36 L142.75,410.17 L145.25,410.07 L146.00,409.94 L149.75,409.71 L153.50,409.64 L158.50,409.68 L163.50,409.49 L168.50,409.33 L173.50,408.99 L178.50,408.80 L183.50,408.65 L188.50,408.46 L193.50,408.31 L198.50,408.24 L204.75,408.12 L208.50,408.08 L211.00,408.05 L214.75,407.90 L218.50,407.78 L223.50,407.71 L228.50,407.59 L232.25,407.44 L236.00,407.40 L239.75,407.29 L243.50,407.14 L247.25,406.96 L248.00,406.91 L254.25,406.80 L260.50,406.61 L266.75,406.42 L273.00,406.19 L279.25,405.96 L285.50,405.74 L289.25,405.43 L290.00,405.32 L295.00,405.21 L300.00,405.13 L303.75,404.98 L308.75,404.87 L313.75,404.75 L316.88,404.64 L318.12,404.41 L320.62,404.26 L323.12,404.21 L326.25,404.18 L328.75,404.07 L331.25,403.92 L333.75,403.88 L336.88,403.88 L340.00,403.69 L342.50,403.58 L346.25,403.39 L347.50,403.36 L350.00,403.12 L352.50,402.93 L355.00,402.59 L357.50,402.44 L360.00,402.39 L361.88,402.48 L365.00,402.44 L368.75,402.40 L371.25,402.14 L373.75,401.99 L375.62,401.95 L377.50,401.68 L379.38,401.49 L381.88,401.43 L383.75,401.46 L385.62,401.72 L388.12,402.06 L390.00,401.80 L392.50,401.46 L395.00,401.12 L396.88,400.96 L398.75,400.89 L400.00,400.62 L401.25,400.62 L403.12,400.89 L405.00,401.27 L406.88,401.68 L408.75,402.06 L410.62,402.40 L412.50,402.71 L413.75,402.97 L415.00,402.78 L416.88,402.86 L420.00,402.93 L421.88,402.97 L423.12,403.16 L423.75,403.24 L425.62,403.54 L426.88,403.84 L428.12,404.15 L428.75,404.45 L429.38,404.75 L430.62,404.98 L431.88,405.21 L432.75,405.51 L433.75,405.81 L435.00,406.04 L436.88,406.04 L438.12,406.12 L439.38,406.34 L440.62,406.65 L441.88,406.91 L443.12,407.18 L444.38,407.40 L445.62,407.67 L446.88,407.78 L448.12,408.01 L449.38,408.31 L450.62,408.62 L451.88,408.92 L453.12,409.22 L454.38,409.49 L456.25,409.75 L458.12,409.98 L460.00,410.21 L461.88,410.43 L463.75,410.66 L465.62,410.85 L467.50,411.04 L470.00,411.23 L472.50,411.42 L475.00,411.65 L477.50,411.95 L480.00,412.25 L482.50,412.55 L484.38,412.78 L486.25,413.01 L487.50,413.24 L489.38,413.39 L491.25,413.50 L492.50,413.58 L494.00,413.60 L624.00,413.60 L626.00,413.54 L628.50,413.48 L632.25,413.43 L636.00,413.39 L639.75,413.35 L642.25,413.27 L644.12,413.16 L646.00,413.20 L648.75,413.15 L649.00,413.60 L472.00,413.60 L470.62,413.58 L469.38,413.43 L467.50,413.24 L465.62,413.01 L464.38,412.78 L462.50,412.59 L460.00,412.40 L457.50,412.18 L455.00,411.91 L452.50,411.65 L451.25,411.42 L450.00,411.12 L448.75,410.81 L447.50,410.81 L445.62,410.55 L443.75,410.32 L441.88,410.05 L440.00,409.79 L438.12,409.49 L436.88,409.22 L435.62,408.92 L434.38,408.62 L433.12,408.31 L432.25,408.01 L431.25,407.78 L430.62,407.78 L429.38,407.52 L428.12,407.25 L426.88,406.95 L425.62,406.65 L424.38,406.42 L423.12,406.19 L421.88,405.96 L420.62,405.74 L419.38,405.51 L418.12,405.21 L416.88,404.98 L415.62,404.75 L415.00,404.92 L413.75,404.75 L411.88,404.64 L410.00,404.75 L408.12,404.45 L406.25,404.15 L404.38,403.99 L402.50,403.92 L400.00,403.92 L398.12,403.69 L396.88,403.52 L395.62,403.50 L393.75,403.65 L391.30,403.58 L391.25,403.55 L388.75,403.46 L386.88,403.35 L385.00,403.39 L383.12,403.46 L381.25,403.50 L378.75,403.48 L377.50,403.58 L375.00,403.62 L367.50,403.65 L365.00,403.69 L363.75,403.80 L362.50,403.96 L358.75,403.98 L355.00,404.01 L352.50,404.08 L351.25,404.03 L348.75,404.07 L345.00,404.16 L342.50,404.30 L340.00,404.45 L337.50,404.60 L335.00,404.75 L332.50,404.94 L328.75,405.09 L323.75,405.13 L320.00,405.21 L316.25,405.36 L313.12,405.43 L310.00,405.51 L306.25,405.70 L302.50,405.89 L298.75,406.04 L293.75,406.19 L290.00,406.42 L285.50,406.72 L279.25,406.95 L273.00,407.14 L266.75,407.37 L260.50,407.59 L254.25,407.78 L248.00,407.93 L246.00,408.12 L239.75,408.24 L233.50,408.31 L227.25,408.46 L221.00,408.69 L214.75,408.88 L208.50,409.07 L202.25,409.30 L196.00,409.52 L189.75,409.79 L183.50,410.02 L177.25,410.21 L171.00,410.36 L164.75,410.51 L158.50,410.74 L152.25,410.93 L146.00,411.12 L145.25,411.16 L141.50,411.23 L137.75,411.34 L134.00,411.49 L129.00,411.61 L124.00,411.76 L119.00,411.87 L114.00,411.99 L109.00,412.06 L104.00,412.14 L100.25,412.25 L94.00,412.44 L87.75,412.59 L81.50,412.74 L75.25,412.93 L69.00,413.05 L62.75,413.16 L56.50,413.31 L51.50,413.43 L48.25,413.54 Z" fill="#e8fcfc"/>
<path d="M48.25,413.54 L51.50,413.43 L56.50,413.31 L62.75,413.16 L69.00,413.05 L75.25,412.93 L81.50,412.74 L87.75,412.59 L94.00,412.44 L100.25,412.25 L104.00,412.14 L109.00,412.06 L114.00,411.99 L119.00,411.87 L124.00,411.76 L129.00,411.61 L134.00,411.49 L137.75,411.34 L141.50,411.23 L145.25,411.16 L146.00,411.12 L152.25,410.93 L158.50,410.74 L164.75,410.51 L171.00,410.36 L177.25,410.21 L183.50,410.02 L189.75,409.79 L196.00,409.52 L202.25,409.30 L208.50,409.07 L214.75,408.88 L221.00,408.69 L227.25,408.46 L233.50,408.31 L239.75,408.24 L246.00,408.12 L248.00,407.93 L254.25,407.78 L260.50,407.59 L266.75,407.37 L273.00,407.14 L279.25,406.95 L285.50,406.72 L290.00,406.42 L293.75,406.19 L298.75,406.04 L302.50,405.89 L306.25,405.70 L310.00,405.51 L313.12,405.43 L316.25,405.36 L320.00,405.21 L323.75,405.13 L328.75,405.09 L332.50,404.94 L335.00,404.75 L337.50,404.60 L340.00,404.45 L342.50,404.30 L345.00,404.16 L348.75,404.07 L351.25,404.03 L352.50,404.08 L355.00,404.01 L358.75,403.98 L362.50,403.96 L363.75,403.80 L365.00,403.69 L367.50,403.65 L375.00,403.62 L377.50,403.58 L378.75,403.48 L381.25,403.50 L383.12,403.46 L385.00,403.39 L386.88,403.35 L388.75,403.46 L391.25,403.55 L391.30,403.58 L393.75,403.65 L395.62,403.50 L396.88,403.52 L398.12,403.69 L400.00,403.92 L402.50,403.92 L404.38,403.99 L406.25,404.15 L408.12,404.45 L410.00,404.75 L411.88,404.64 L413.75,404.75 L415.00,404.92 L415.62,404.75 L416.88,404.98 L418.12,405.21 L419.38,405.51 L420.62,405.74 L421.88,405.96 L423.12,406.19 L424.38,406.42 L425.62,406.65 L426.88,406.95 L428.12,407.25 L429.38,407.52 L430.62,407.78 L431.25,407.78 L432.25,408.01 L433.12,408.31 L434.38,408.62 L435.62,408.92 L436.88,409.22 L438.12,409.49 L440.00,409.79 L441.88,410.05 L443.75,410.32 L445.62,410.55 L447.50,410.81 L448.75,410.81 L450.00,411.12 L451.25,411.42 L452.50,411.65 L455.00,411.91 L457.50,412.18 L460.00,412.40 L462.50,412.59 L464.38,412.78 L465.62,413.01 L467.50,413.24 L469.38,413.43 L470.62,413.58 L472.00,413.60 L649.00,413.60 L649.00,413.60 L455.00,413.60 L453.75,413.58 L451.88,413.46 L450.00,413.27 L447.50,413.01 L444.38,412.71 L441.88,412.40 L439.38,412.10 L436.88,411.80 L433.75,411.49 L431.25,411.27 L428.12,411.08 L425.62,410.81 L422.50,410.74 L421.25,410.43 L420.00,410.13 L418.75,409.83 L416.88,409.56 L415.00,409.30 L413.12,409.03 L411.25,408.77 L408.75,408.50 L406.25,408.24 L403.75,408.01 L402.50,408.16 L401.25,408.01 L399.38,407.74 L397.50,407.59 L395.00,407.52 L392.50,407.44 L390.00,407.10 L387.50,406.91 L383.75,406.65 L380.00,406.38 L376.25,406.19 L372.50,406.02 L368.75,405.96 L365.00,405.93 L361.25,405.96 L357.50,406.00 L353.75,405.93 L351.25,405.81 L347.50,405.85 L345.00,405.96 L341.25,406.08 L337.50,406.27 L333.75,406.49 L330.00,406.68 L325.00,406.87 L320.00,407.02 L315.00,407.18 L310.00,407.33 L305.00,407.48 L300.00,407.63 L295.00,407.82 L290.00,407.97 L278.00,408.31 L273.00,408.46 L268.00,408.65 L263.00,408.83 L258.00,408.96 L253.00,409.07 L248.00,409.18 L246.00,409.15 L239.75,409.28 L233.50,409.41 L227.25,409.56 L221.00,409.71 L214.75,409.87 L208.50,410.02 L202.25,410.21 L196.00,410.43 L189.75,410.66 L183.50,410.85 L177.25,410.96 L171.00,411.12 L164.75,411.27 L158.50,411.42 L152.25,411.57 L146.00,411.70 L144.00,411.76 L137.75,411.95 L131.50,412.14 L125.25,412.29 L119.00,412.48 L112.75,412.63 L106.50,412.82 L100.25,412.97 L94.00,413.08 L87.75,413.24 L81.50,413.39 L74.00,413.52 L69.00,413.58 L48.25,413.60 Z" fill="#dafcda"/>
<path d="M48.25,413.60 L69.00,413.58 L74.00,413.52 L81.50,413.39 L87.75,413.24 L94.00,413.08 L100.25,412.97 L106.50,412.82 L112.75,412.63 L119.00,412.48 L125.25,412.29 L131.50,412.14 L137.75,411.95 L144.00,411.76 L146.00,411.70 L152.25,411.57 L158.50,411.42 L164.75,411.27 L171.00,411.12 L177.25,410.96 L183.50,410.85 L189.75,410.66 L196.00,410.43 L202.25,410.21 L208.50,410.02 L214.75,409.87 L221.00,409.71 L227.25,409.56 L233.50,409.41 L239.75,409.28 L246.00,409.15 L248.00,409.18 L253.00,409.07 L258.00,408.96 L263.00,408.83 L268.00,408.65 L273.00,408.46 L278.00,408.31 L290.00,407.97 L295.00,407.82 L300.00,407.63 L305.00,407.48 L310.00,407.33 L315.00,407.18 L320.00,407.02 L325.00,406.87 L330.00,406.68 L333.75,406.49 L337.50,406.27 L341.25,406.08 L345.00,405.96 L347.50,405.85 L351.25,405.81 L353.75,405.93 L357.50,406.00 L361.25,405.96 L365.00,405.93 L368.75,405.96 L372.50,406.02 L376.25,406.19 L380.00,406.38 L383.75,406.65 L387.50,406.91 L390.00,407.10 L392.50,407.44 L395.00,407.52 L397.50,407.59 L399.38,407.74 L401.25,408.01 L402.50,408.16 L403.75,408.01 L406.25,408.24 L408.75,408.50 L411.25,408.77 L413.12,409.03 L415.00,409.30 L416.88,409.56 L418.75,409.83 L420.00,410.13 L421.25,410.43 L422.50,410.74 L425.62,410.81 L428.12,411.08 L431.25,411.27 L433.75,411.49 L436.88,411.80 L439.38,412.10 L441.88,412.40 L444.38,412.71 L447.50,413.01 L450.00,413.27 L451.88,413.46 L453.75,413.58 L455.00,413.60 L649.00,413.60 L649.00,413.60 L434.00,413.60 L432.50,413.58 L430.00,413.31 L427.50,413.05 L425.00,412.71 L422.50,412.33 L420.00,412.02 L417.50,411.72 L414.38,411.34 L411.25,411.04 L410.05,410.89 L410.00,411.04 L408.75,410.74 L407.50,410.43 L406.25,410.13 L405.00,409.83 L403.12,409.52 L401.25,409.22 L399.38,408.92 L397.50,408.54 L395.62,408.20 L393.75,408.46 L392.50,408.31 L390.00,407.93 L386.25,407.74 L382.50,407.55 L380.00,407.52 L377.50,407.63 L375.00,407.55 L372.50,407.40 L370.00,407.14 L367.50,406.87 L365.00,406.68 L361.88,406.57 L358.12,406.57 L355.00,406.68 L352.50,406.80 L350.00,406.83 L347.50,406.76 L345.00,406.83 L341.25,407.02 L337.50,407.14 L333.75,407.25 L330.00,407.40 L326.25,407.63 L322.50,407.93 L318.75,408.21 L308.75,408.21 L302.50,408.24 L297.50,408.31 L288.00,408.58 L283.00,408.73 L278.00,408.84 L273.00,408.96 L268.00,409.11 L263.00,409.30 L258.00,409.49 L253.00,409.64 L248.00,409.87 L246.00,409.87 L239.75,409.90 L233.50,409.94 L227.25,410.02 L221.00,410.09 L214.75,410.24 L208.50,410.56 L202.25,410.69 L196.00,410.83 L189.75,410.98 L183.50,411.17 L177.25,411.32 L171.00,411.47 L164.75,411.60 L158.50,411.74 L152.25,411.89 L146.00,412.08 L144.00,412.29 L137.75,412.52 L131.50,412.63 L125.25,412.74 L119.00,412.93 L112.75,413.08 L106.50,413.20 L100.25,413.31 L94.00,413.43 L87.75,413.50 L81.50,413.58 L48.25,413.60 Z" fill="#fdfdda"/>
<path d="M48.25,413.60 L81.50,413.58 L87.75,413.50 L94.00,413.43 L100.25,413.31 L106.50,413.20 L112.75,413.08 L119.00,412.93 L125.25,412.74 L131.50,412.63 L137.75,412.52 L144.00,412.29 L146.00,412.08 L152.25,411.89 L158.50,411.74 L164.75,411.60 L171.00,411.47 L177.25,411.32 L183.50,411.17 L189.75,410.98 L196.00,410.83 L202.25,410.69 L208.50,410.56 L214.75,410.24 L221.00,410.09 L227.25,410.02 L233.50,409.94 L239.75,409.90 L246.00,409.87 L248.00,409.87 L253.00,409.64 L258.00,409.49 L263.00,409.30 L268.00,409.11 L273.00,408.96 L278.00,408.84 L283.00,408.73 L288.00,408.58 L297.50,408.31 L302.50,408.24 L308.75,408.21 L318.75,408.21 L322.50,407.93 L326.25,407.63 L330.00,407.40 L333.75,407.25 L337.50,407.14 L341.25,407.02 L345.00,406.83 L347.50,406.76 L350.00,406.83 L352.50,406.80 L355.00,406.68 L358.12,406.57 L361.88,406.57 L365.00,406.68 L367.50,406.87 L370.00,407.14 L372.50,407.40 L375.00,407.55 L377.50,407.63 L380.00,407.52 L382.50,407.55 L386.25,407.74 L390.00,407.93 L392.50,408.31 L393.75,408.46 L395.62,408.20 L397.50,408.54 L399.38,408.92 L401.25,409.22 L403.12,409.52 L405.00,409.83 L406.25,410.13 L407.50,410.43 L408.75,410.74 L410.00,411.04 L410.05,410.89 L411.25,411.04 L414.38,411.34 L417.50,411.72 L420.00,412.02 L422.50,412.33 L425.00,412.71 L427.50,413.05 L430.00,413.31 L432.50,413.58 L434.00,413.60 L649.00,413.60 L649.00,413.60 L422.00,413.60 L420.62,413.58 L419.38,413.46 L416.88,413.12 L414.38,412.71 L412.50,412.33 L410.00,411.95 L406.88,411.68 L403.75,411.42 L401.88,411.12 L400.62,410.89 L399.38,410.89 L398.12,410.51 L396.88,410.13 L395.62,409.94 L394.38,410.13 L393.12,410.32 L391.88,409.98 L391.35,409.45 L391.30,408.99 L391.25,408.50 L390.00,408.31 L388.12,408.35 L385.00,408.48 L381.25,408.46 L377.50,408.62 L375.62,408.54 L373.12,408.27 L370.62,408.20 L368.12,408.01 L366.88,407.78 L365.62,407.55 L364.38,407.52 L362.50,407.74 L360.00,408.01 L357.50,408.20 L355.00,407.97 L352.50,407.82 L350.00,407.93 L347.50,408.16 L343.75,408.39 L340.00,408.54 L339.25,408.60 L335.50,408.69 L330.50,408.77 L325.50,408.84 L320.50,408.99 L315.50,409.11 L310.50,409.18 L305.50,409.22 L300.50,409.33 L298.00,409.52 L295.50,409.60 L290.50,409.79 L285.50,409.90 L280.50,409.94 L276.75,410.09 L273.00,410.17 L268.00,410.24 L264.25,410.36 L261.75,410.66 L256.75,410.81 L253.00,410.96 L248.00,411.00 L246.00,411.07 L241.00,411.12 L236.00,411.07 L232.25,411.05 L229.75,411.13 L226.00,411.28 L221.00,411.40 L216.00,411.51 L211.00,411.62 L206.00,411.74 L201.00,411.74 L196.00,411.70 L191.00,411.74 L186.00,411.77 L181.00,411.85 L176.00,411.93 L171.00,412.00 L166.00,412.08 L162.25,412.19 L158.50,412.30 L155.38,412.38 L153.50,412.53 L149.75,412.61 L146.00,412.68 L144.00,412.74 L139.00,412.86 L134.00,413.01 L130.25,413.16 L126.50,413.39 L124.00,413.58 L122.00,413.60 L48.25,413.60 Z" fill="#ffe1e1"/>
<path d="M48.25,413.60 L74.62,413.58 L75.25,413.27 L77.12,413.24 L79.62,413.27 L81.50,413.43 L83.38,413.55 L85.25,413.59 L94.00,413.59 L95.25,413.24 L96.50,413.20 L99.00,413.12 L101.50,413.05 L104.00,412.97 L106.50,412.93 L109.00,412.90 L111.50,412.82 L114.00,412.80 L116.50,412.74 L119.00,412.62 L121.50,412.63 L124.00,412.67 L125.88,412.65 L127.12,412.52 L129.00,412.37 L131.50,412.25 L134.00,412.27 L136.50,412.29 L139.00,412.21 L141.50,412.19 L145.25,412.18 L146.00,412.23 L161.62,412.23 L163.50,412.08 L165.38,411.96 L168.50,411.95 L171.00,411.87 L172.88,411.77 L175.38,411.70 L178.50,411.66 L182.25,411.64 L189.75,411.64 L191.00,411.57 L194.12,411.58 L196.00,411.47 L198.50,411.40 L202.25,411.40 L204.12,411.28 L205.38,411.09 L206.00,411.04 L208.50,411.02 L211.00,410.98 L212.88,410.87 L214.75,410.75 L216.00,410.58 L217.88,410.21 L219.12,410.07 L222.25,410.05 L224.75,409.98 L227.25,409.84 L229.75,409.81 L232.25,409.77 L234.75,409.56 L237.25,409.33 L239.12,409.26 L242.25,409.22 L246.00,409.21 L248.00,409.22 L252.38,409.21 L254.25,409.03 L257.38,408.99 L260.50,408.93 L265.50,408.90 L270.50,408.88 L273.00,408.80 L278.00,408.75 L283.00,408.71 L285.50,408.63 L289.25,408.62 L295.88,408.63" fill="none" stroke="#000" stroke-width="2"/>
<path d="M297.62,408.63 L303.00,408.62 L306.12,408.54 L307.38,408.31 L307.50,408.16 L310.00,408.05 L315.00,408.01 L319.38,407.97 L320.62,407.86 L323.75,407.78 L326.25,407.71 L327.50,407.48 L330.00,407.33 L333.12,407.18 L335.62,407.02 L338.12,407.01 L340.00,407.06 L341.88,407.29 L343.75,407.52 L345.62,407.44 L347.50,407.25 L350.00,407.04 L352.50,406.91 L355.00,406.72 L357.50,406.53 L358.75,406.49 L360.62,406.65 L362.50,406.80 L364.38,406.87 L365.62,407.04 L366.88,407.33 L368.12,407.63 L369.38,407.97 L371.88,408.24 L373.75,408.69 L375.62,409.07 L377.50,408.69 L380.00,408.50 L383.12,408.43 L386.88,408.50 L389.38,408.37 L391.25,408.50 L392.50,408.84 L393.75,409.11 L395.00,408.69 L396.25,408.39 L397.50,408.54 L399.38,408.27 L400.62,408.20 L401.88,408.39 L403.75,408.77 L405.62,409.07 L406.88,408.73 L408.50,408.58 L410.00,408.84 L411.88,409.15 L413.12,409.45 L414.38,409.90 L415.62,410.36 L416.88,410.81 L416.93,411.04 L417.50,411.27 L418.75,411.65 L420.00,411.80 L423.12,411.83 L425.00,411.99 L428.12,412.25 L430.00,411.87 L432.50,411.95 L435.00,412.14 L436.88,412.29 L439.38,412.29 L442.50,412.44 L445.00,412.59 L447.50,412.78 L450.00,412.97 L453.12,413.20 L455.62,413.12 L458.12,413.07 L460.00,413.20 L461.88,413.43 L463.75,413.58 L466.00,413.60 L562.50,413.60" fill="none" stroke="#000" stroke-width="2"/>
<path d="M48.25,413.60 L59.00,413.55 L69.00,413.44 L75.25,413.35 L81.50,413.24 L87.75,413.08 L94.00,412.93 L100.25,412.74 L106.50,412.55 L112.75,412.37 L119.00,412.18 L125.25,412.02 L131.50,411.83 L137.75,411.65 L144.00,411.49 L146.00,411.43 L154.75,411.24 L158.50,411.12 L164.75,410.96 L171.00,410.81 L177.25,410.62 L183.50,410.47 L189.75,410.32 L196.00,410.05 L199.75,409.94 L206.00,409.71 L212.25,409.52 L218.50,409.37 L224.75,409.22 L231.00,409.07 L236.00,408.92 L239.75,408.78 L246.00,408.63 L248.00,408.58 L254.25,408.39 L260.50,408.20 L266.75,408.07 L273.00,407.90 L279.25,407.67 L285.50,407.44 L290.00,407.29 L293.75,407.06 L297.50,406.91 L301.25,406.83 L305.00,406.65 L308.75,406.49 L312.50,406.38 L316.25,406.30 L320.00,406.23 L323.75,406.15 L327.50,406.04 L331.25,405.89 L335.00,405.77 L338.75,405.66 L341.25,405.58 L343.75,405.43 L346.25,405.30 L350.00,405.19 L352.50,405.17 L356.25,405.24 L360.00,405.17 L363.75,405.13 L367.50,405.17 L370.00,405.15 L372.50,405.12 L375.00,405.28 L377.50,405.43 L380.00,405.24 L381.88,405.28 L383.75,405.43 L386.25,405.60 L388.75,405.55 L391.25,405.52 L392.50,405.43 L393.75,405.66 L395.62,405.96 L395.68,405.89 L396.88,406.12 L398.75,406.15 L400.00,406.34 L402.50,406.65 L405.00,406.91 L406.88,407.02 L408.75,407.33 L411.25,407.59 L413.12,407.90 L415.62,407.93 L416.88,408.05 L418.12,408.31 L420.00,408.62 L421.88,408.92 L423.75,409.18 L425.62,409.41 L427.50,409.60 L428.50,409.90 L429.75,410.21 L431.00,410.51 L432.25,410.81 L432.30,410.89 L433.12,411.08 L435.62,411.30 L438.12,411.38 L439.38,411.65 L441.25,411.95 L443.12,412.25 L445.00,412.52 L447.50,412.74 L450.00,412.93 L452.50,413.05 L455.00,413.12 L458.12,413.31 L460.62,413.46 L462.50,413.58 L464.00,413.60 L649.00,413.60" fill="none" stroke="rgb(0,215,10)" stroke-opacity="0.52" stroke-width="2"/>
<path d="M370.60,405.80 L372.80,408.00 L375.00,405.80 L372.80,403.60 L375.00,401.40 L372.80,399.20 L370.60,401.40 L368.40,399.20 L366.20,401.40 L368.40,403.60 L366.20,405.80 L368.40,408.00 Z" fill="#38ea38"/>
<rect x="45.5" y="402.5" width="4" height="8" fill="#fff" stroke="#222" stroke-width="1"/>
<rect x="647.5" y="402.5" width="4" height="8" fill="#fff" stroke="#222" stroke-width="1"/>
<rect x="662" y="86" width="148" height="221" fill="#fff" stroke="#dcdcdc" stroke-width="2"/>
<path d="M683.00,103.70 L685.20,105.90 L687.40,103.70 L685.20,101.50 L687.40,99.30 L685.20,97.10 L683.00,99.30 L680.80,97.10 L678.60,99.30 L680.80,101.50 L678.60,103.70 L680.80,105.90 Z" fill="#38ea38"/>
<line x1="668" x2="698" y1="120.5" y2="120.5" stroke="#7ef27e" stroke-width="2"/>
<rect x="668" y="136.5" width="30" height="6" fill="#d5f8d5"/>
<line x1="668" x2="698" y1="158.5" y2="158.5" stroke="#0000f5" stroke-width="2" stroke-dasharray="3,3"/>
<line x1="668" x2="698" y1="177.5" y2="177.5" stroke="#1e78ff" stroke-width="2" stroke-dasharray="3,3"/>
<line x1="668" x2="698" y1="196.5" y2="196.5" stroke="#78f0f0" stroke-width="2" stroke-dasharray="3,3"/>
<line x1="668" x2="698" y1="215.5" y2="215.5" stroke="#00e600" stroke-width="2" stroke-dasharray="3,3"/>
<line x1="668" x2="698" y1="234.5" y2="234.5" stroke="#f0f000" stroke-width="2" stroke-dasharray="3,3"/>
<line x1="668" x2="698" y1="253.5" y2="253.5" stroke="#ff5050" stroke-width="2" stroke-dasharray="3,3"/>
<line x1="668" x2="698" y1="272.5" y2="272.5" stroke="#f00000" stroke-width="2" stroke-dasharray="3,3"/>
<line x1="668" x2="698" y1="291.5" y2="291.5" stroke="#000" stroke-width="2"/>
<circle cx="683" cy="291.5" r="1.4" fill="#000"/>
<g><text x="669.8" y="380.9" font-family="Liberation Serif,serif" font-size="16.3" fill="#4a6eb5" stroke="#4a6eb5" stroke-width="0.35" textLength="39.4" lengthAdjust="spacingAndGlyphs">USDA</text><path d="M670,397 L670,391.4 Q688,386.6 709,385.8 L709,397 Z" fill="#3f7b68"/><path d="M670,383.3 L709,383.3 L709,384.5 Q690,384.2 670,384.8 Z" fill="#3f7b68"/><path d="M670,386.3 Q682,386.4 692,385.0" stroke="#3f7b68" stroke-width="0.7" fill="none" opacity="0.8"/><path d="M670,388.6 Q684,386.4 698,385.2" stroke="#3f7b68" stroke-width="0.7" fill="none" opacity="0.7"/></g>
</svg>
<div class="t" style="left:41px;top:29px;font-size:17px;">SNOW WATER EQUIVALENT PROJECTION IN POWDER</div>
<div class="t" style="left:60px;top:63px;width:80px;height:18.5px;background:#eeeeee;border-radius:3px;font-size:12px;line-height:18px;text-align:center;color:#2a3f5f;">Reset Range</div>
<div class="t" style="left:292px;top:73px;font-size:10px;color:#2a3f5f;">Link to data: <span style="color:#457bd9">CSV</span> / <span style="color:#457bd9">JSON</span></div>
<div class="t" style="left:663px;top:73px;font-size:10px;color:#457bd9;">Station List</div>
<div class="t" style="left:57px;top:99px;width:169.7px;height:81.5px;border:1px solid #8a8a8a;box-sizing:border-box;background:rgba(255,255,255,0.3);"></div>
<div class="t" style="left:60.5px;top:102.7px;font-size:12px;">Current as of 08/08/2025:</div>
<div class="t" style="left:60.5px;top:119px;font-size:12px;">% of Median - N/A%</div>
<div class="t" style="left:60.5px;top:134px;font-size:12px;">% Median Peak - N/A%</div>
<div class="t" style="left:60.5px;top:149px;font-size:12px;">Days Since Median Peak - 116</div>
<div class="t" style="left:60.5px;top:164.5px;font-size:12px;">Percentile - 100</div>
<div class="t" style="left:13px;width:30px;text-align:right;top:110.5px;font-size:12px;">15</div>
<div class="t" style="left:13px;width:30px;text-align:right;top:186.5px;font-size:12px;">10</div>
<div class="t" style="left:13px;width:30px;text-align:right;top:263.5px;font-size:12px;">5</div>
<div class="t" style="left:13px;width:30px;text-align:right;top:340.0px;font-size:12px;">0</div>
<div class="t" style="left:59.1px;width:80px;text-align:center;top:370px;font-size:12px;white-space:pre;">Nov  1</div>
<div class="t" style="left:159.1px;width:80px;text-align:center;top:370px;font-size:12px;white-space:pre;">Jan  1</div>
<div class="t" style="left:258.1px;width:80px;text-align:center;top:370px;font-size:12px;white-space:pre;">Mar  1</div>
<div class="t" style="left:358.1px;width:80px;text-align:center;top:370px;font-size:12px;white-space:pre;">May  1</div>
<div class="t" style="left:459.1px;width:80px;text-align:center;top:370px;font-size:12px;white-space:pre;">Jul  1</div>
<div class="t" style="left:561.1px;width:80px;text-align:center;top:370px;font-size:12px;white-space:pre;">Sep  1</div>
<div class="t" style="left:10px;top:224px;font-size:14px;transform:translate(-50%,-50%) rotate(-90deg);">Snow Water Equivalent (in.)</div>
<div class="t" style="left:703px;top:95.5px;font-size:12px;">Median Peak SWE</div>
<div class="t" style="left:703px;top:114.5px;font-size:12px;">Median ('91-'20)</div>
<div class="t" style="left:703px;top:133.5px;font-size:12px;">Stats. Shading</div>
<div class="t" style="left:703px;top:152.5px;font-size:12px;">Max Proj (POR)</div>
<div class="t" style="left:703px;top:171.5px;font-size:12px;">90% Proj (POR)</div>
<div class="t" style="left:703px;top:190.5px;font-size:12px;">70% Proj (POR)</div>
<div class="t" style="left:703px;top:209.5px;font-size:12px;">50% Proj (POR)</div>
<div class="t" style="left:703px;top:228.5px;font-size:12px;">30% Proj (POR)</div>
<div class="t" style="left:703px;top:247.5px;font-size:12px;">10% Proj (POR)</div>
<div class="t" style="left:703px;top:266.5px;font-size:12px;">Min Proj (POR)</div>
<div class="t" style="left:703px;top:285.5px;font-size:12px;">2025 (7 sites)</div>
</body></html>
